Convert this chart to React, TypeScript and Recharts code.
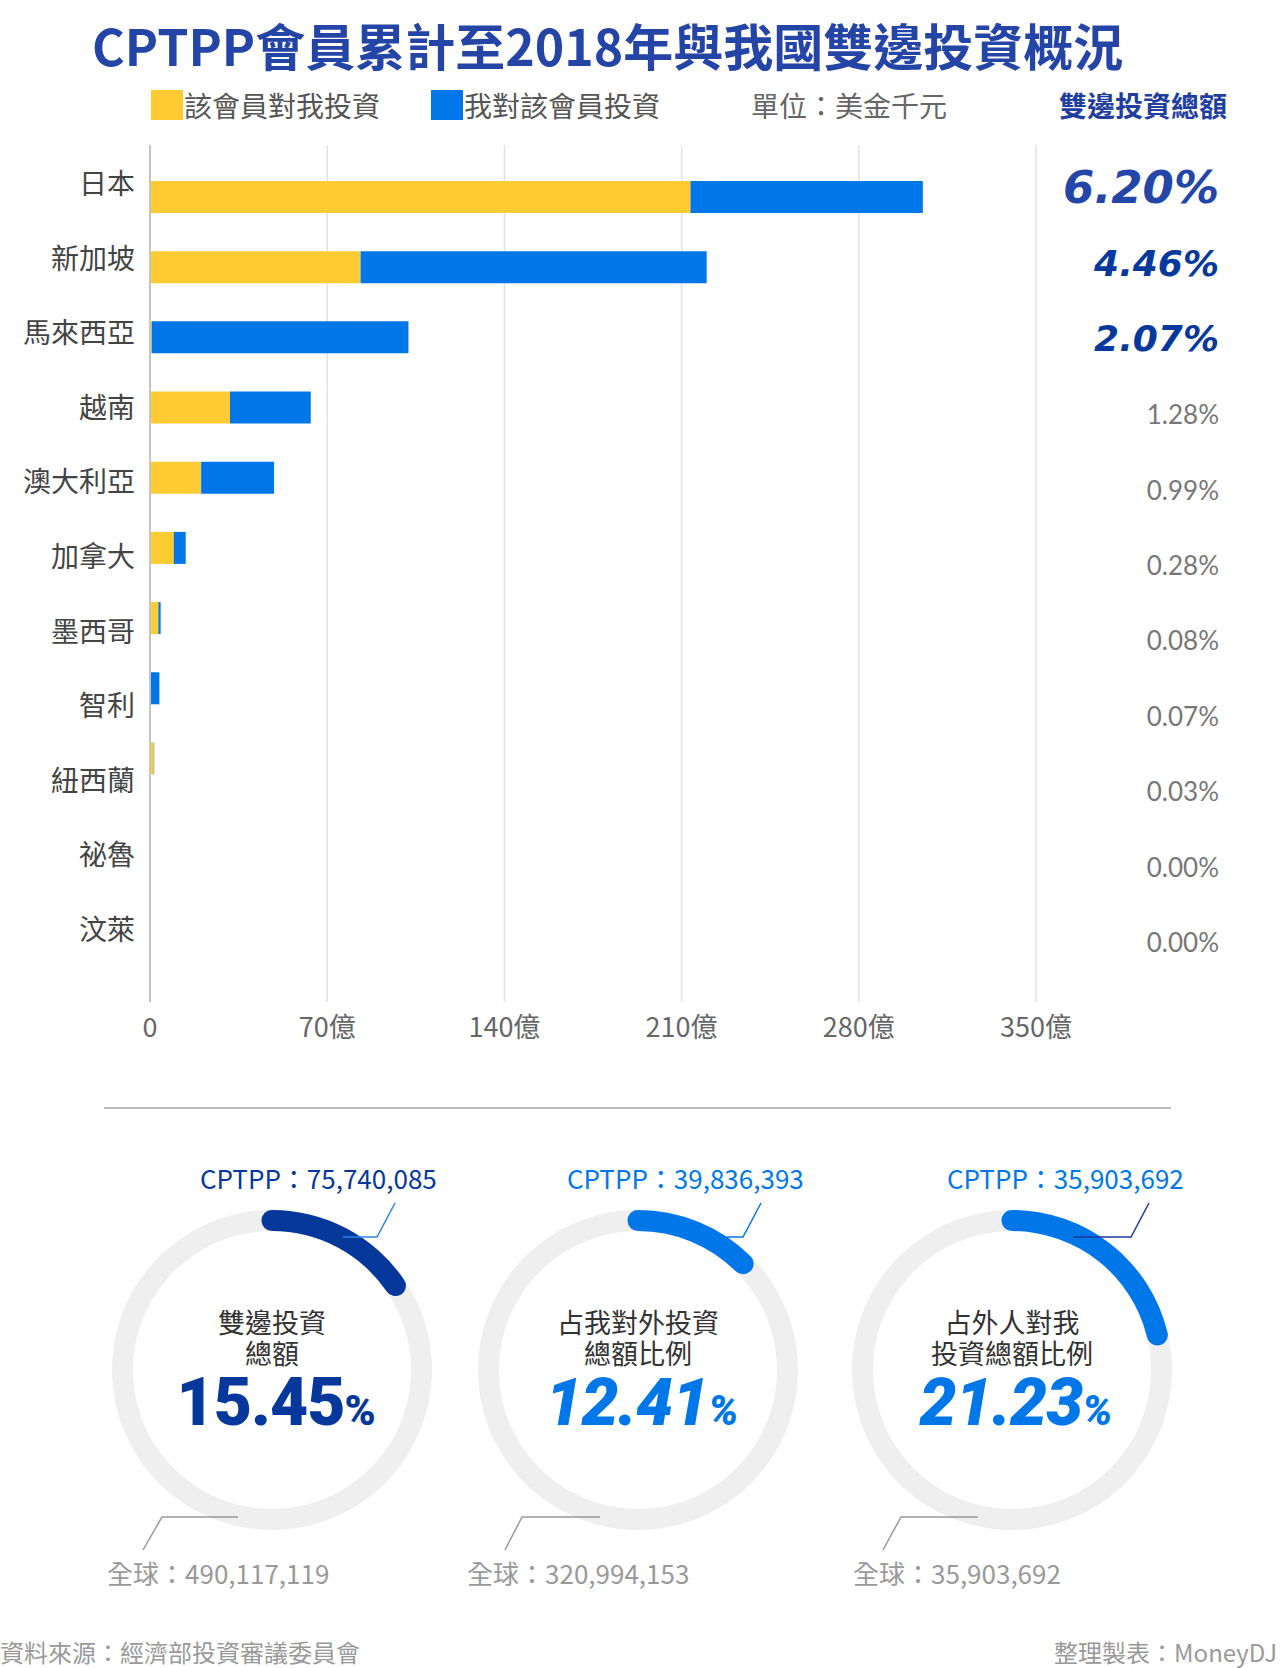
import {
  Bar,
  BarChart,
  CartesianGrid,
  PolarAngleAxis,
  RadialBar,
  RadialBarChart,
  XAxis,
  YAxis,
} from 'recharts'

const members = ['日本', '新加坡', '馬來西亞', '越南', '澳大利亞', '加拿大', '墨西哥', '智利', '紐西蘭', '祕魯', '汶萊']
// 該會員對我投資（億美元）
const inwardValues = [213.5, 83.2, 0.7, 31.6, 20.2, 9.4, 3.3, 0, 1.5, 0.02, 0]
// 我對該會員投資（億美元）
const outwardValues = [91.8, 136.7, 101.4, 31.9, 28.8, 4.7, 0.9, 3.7, 0.15, 0.1, 0]
const shareLabels = ['6.20%', '4.46%', '2.07%', '1.28%', '0.99%', '0.28%', '0.08%', '0.07%', '0.03%', '0.00%', '0.00%']
const xTicks = [0, 70, 140, 210, 280, 350]

const gaugeTitles = [
  ['雙邊投資', '總額'],
  ['占我對外投資', '總額比例'],
  ['占外人對我', '投資總額比例'],
]
const gaugeShares = [15.45, 12.41, 21.23]
const cptppTotals = ['75,740,085', '39,836,393', '35,903,692']
const globalTotals = ['490,117,119', '320,994,153', '35,903,692']

const YELLOW = '#FECB32'
const BLUE = '#0077E8'
const NAVY = '#06379B'
const FONT = '"Noto Sans CJK TC", "Noto Sans", sans-serif'

const series = [
  { key: 'inward', name: '該會員對我投資', color: YELLOW, left: 151 },
  { key: 'outward', name: '我對該會員投資', color: BLUE, left: 431 },
]

const chartData = members.map((name, i) => ({
  name,
  inward: inwardValues[i],
  outward: outwardValues[i],
}))

// look of each gauge (layout only, values come from the arrays above)
const gaugeStyles = [
  { cx: 272, color: NAVY, lead: '#2A84EA', italic: false, top: [123, 105, 71], bottom: [-129, -110, -34], labelLeft: -72, globalLeft: -165 },
  { cx: 638, color: BLUE, lead: BLUE, italic: true, top: [123, 105, 89], bottom: [-133, -116, -38], labelLeft: -71, globalLeft: -171 },
  { cx: 1012, color: BLUE, lead: '#1D3A9A', italic: true, top: [137, 119, 61], bottom: [-129, -111, -34], labelLeft: -65, globalLeft: -159 },
]
const GAUGE_CY = 1370

function MemberTick({ x, y, payload }: any) {
  return (
    <text x={x} y={y} textAnchor="end" dominantBaseline="central" fontSize={28} fill="#444" fontFamily={FONT}>
      {payload.value}
    </text>
  )
}

function ShareTick({ x, y, index }: any) {
  const label = shareLabels[index]
  if (index < 3) {
    return (
      <text
        x={x}
        y={y}
        textAnchor="end"
        dominantBaseline="central"
        fontSize={index === 0 ? 45 : 36}
        fontWeight={700}
        fontStyle="italic"
        fill={index === 0 ? '#2346A8' : '#06399C'}
        fontFamily='"DejaVu Sans", sans-serif'
      >
        {label}
      </text>
    )
  }
  return (
    <text x={x} y={y} textAnchor="end" dominantBaseline="central" fontSize={26} fill="#777" fontFamily="Lato, sans-serif">
      {label}
    </text>
  )
}

function ValueTick({ x, y, payload }: any) {
  return (
    <text x={x} y={y + 23} textAnchor="middle" dominantBaseline="central" fontSize={27} fill="#666" fontFamily={FONT}>
      {payload.value === 0 ? '0' : `${payload.value}億`}
    </text>
  )
}

function Gauge({ i }: { i: number }) {
  const s = gaugeStyles[i]
  const cx = s.cx
  const cy = GAUGE_CY
  const num = gaugeShares[i].toFixed(2)
  return (
    <>
      <div style={{ position: 'absolute', left: cx - 170, top: cy - 170 }}>
        <RadialBarChart
          width={340}
          height={340}
          cx={170}
          cy={170}
          innerRadius={139}
          outerRadius={160}
          startAngle={90}
          endAngle={-270}
          barCategoryGap={0}
          data={[{ name: 'CPTPP', value: gaugeShares[i] }]}
        >
          <PolarAngleAxis type="number" domain={[0, 100]} tick={false} axisLine={false} />
          <RadialBar
            dataKey="value"
            background={{ fill: '#EFEFEF', cornerRadius: 0 }}
            cornerRadius={10.5}
            cornerIsExternal
            fill={s.color}
            isAnimationActive={false}
          />
        </RadialBarChart>
      </div>
      <svg style={{ position: 'absolute', left: 0, top: 0 }} width={1280} height={1668} pointerEvents="none">
        <polyline
          points={`${cx + s.top[0]},1203 ${cx + s.top[1]},1237 ${cx + s.top[2]},1237`}
          fill="none"
          stroke={s.lead}
          strokeWidth={1.5}
        />
        <polyline
          points={`${cx + s.bottom[0]},1550 ${cx + s.bottom[1]},1517 ${cx + s.bottom[2]},1517`}
          fill="none"
          stroke="#999"
          strokeWidth={1.5}
        />
      </svg>
      <div
        style={{
          position: 'absolute',
          left: cx + s.labelLeft,
          top: 1178 - 18,
          lineHeight: '36px',
          fontSize: 26,
          color: s.color,
          whiteSpace: 'nowrap',
        }}
      >
        CPTPP：{cptppTotals[i]}
      </div>
      <div
        style={{
          position: 'absolute',
          left: cx + s.globalLeft,
          top: 1573 - 18,
          lineHeight: '36px',
          fontSize: 26,
          color: '#999',
          whiteSpace: 'nowrap',
        }}
      >
        全球：{globalTotals[i]}
      </div>
      <div
        style={{
          position: 'absolute',
          left: cx - 150,
          width: 300,
          top: cy - 64,
          textAlign: 'center',
          fontSize: 27,
          lineHeight: '31px',
          color: '#333',
        }}
      >
        {gaugeTitles[i].map((line) => (
          <div key={line}>{line}</div>
        ))}
      </div>
      <div
        style={{
          position: 'absolute',
          left: cx - 146,
          width: 300,
          top: cy + 33 - 34,
          lineHeight: '68px',
          textAlign: 'center',
          color: s.color,
          fontFamily: 'Roboto, sans-serif',
          fontWeight: 900,
          fontStyle: s.italic ? 'italic' : 'normal',
          whiteSpace: 'nowrap',
        }}
      >
        <span style={{ fontSize: 66, letterSpacing: -1 }}>{num}</span>
        <span style={{ fontSize: 42 }}>%</span>
      </div>
    </>
  )
}

export default function App() {
  return (
    <div
      style={{
        position: 'absolute',
        left: 0,
        top: 0,
        width: 1280,
        height: 1668,
        background: '#fff',
        fontFamily: FONT,
        overflow: 'hidden',
      }}
    >
      <div
        style={{
          position: 'absolute',
          left: 92,
          top: 17,
          fontSize: 50,
          lineHeight: '54px',
          fontWeight: 700,
          color: '#2444A6',
          whiteSpace: 'nowrap',
        }}
      >
        CPTPP會員累計至2018年與我國雙邊投資概況
      </div>

      {series.map((s) => (
        <div key={s.key}>
          <div style={{ position: 'absolute', left: s.left, top: 90, width: 32, height: 30, background: s.color }} />
          <div
            style={{
              position: 'absolute',
              left: s.left + 33,
              top: 105 - 18,
              fontSize: 28,
              lineHeight: '36px',
              color: '#555',
              whiteSpace: 'nowrap',
            }}
          >
            {s.name}
          </div>
        </div>
      ))}
      <div style={{ position: 'absolute', left: 751, top: 87, fontSize: 28, lineHeight: '36px', color: '#666', whiteSpace: 'nowrap' }}>
        單位：美金千元
      </div>
      <div
        style={{
          position: 'absolute',
          left: 1059,
          top: 87,
          fontSize: 28,
          lineHeight: '36px',
          fontWeight: 700,
          color: '#1F3EA0',
          whiteSpace: 'nowrap',
        }}
      >
        雙邊投資總額
      </div>

      <div style={{ position: 'absolute', left: 0, top: 0 }}>
        <BarChart
          width={1280}
          height={1052}
          layout="vertical"
          data={chartData}
          margin={{ top: 145, right: 0, bottom: 0, left: 0 }}
        >
          <CartesianGrid horizontal={false} stroke="#E2E2E2" strokeWidth={1.5} yAxisId="bar" />
          <XAxis
            type="number"
            domain={[0, 350]}
            ticks={xTicks}
            interval={0}
            axisLine={false}
            tickLine={false}
            tickSize={0}
            tickMargin={0}
            height={50}
            tick={<ValueTick />}
          />
          <YAxis yAxisId="bar" type="category" dataKey="name" hide width={0} padding={{ top: 17, bottom: 68 }} />
          <YAxis
            yAxisId="label"
            type="category"
            dataKey="name"
            orientation="left"
            width={150}
            interval={0}
            tickLine={false}
            tickSize={0}
            tickMargin={15}
            axisLine={{ stroke: '#C4C4C4', strokeWidth: 2 }}
            padding={{ top: 0, bottom: 37 }}
            tick={<MemberTick />}
          />
          <YAxis
            yAxisId="pct"
            type="category"
            dataKey="name"
            orientation="right"
            width={244}
            interval={0}
            axisLine={false}
            tickLine={false}
            tickSize={0}
            tickMargin={183}
            padding={{ top: 5, bottom: 22 }}
            tick={<ShareTick />}
          />
          {series.map((s) => (
            <Bar
              key={s.key}
              yAxisId="bar"
              dataKey={s.key}
              name={s.name}
              stackId="total"
              fill={s.color}
              barSize={32}
              isAnimationActive={false}
            />
          ))}
        </BarChart>
      </div>

      <div style={{ position: 'absolute', left: 104, top: 1107, width: 1067, height: 2, background: '#BBB' }} />

      {gaugeShares.map((_, i) => (
        <Gauge key={i} i={i} />
      ))}

      <div style={{ position: 'absolute', left: 0, top: 1652 - 16, fontSize: 24, lineHeight: '32px', color: '#999', whiteSpace: 'nowrap' }}>
        資料來源：經濟部投資審議委員會
      </div>
      <div
        style={{
          position: 'absolute',
          right: 3,
          top: 1652 - 16,
          fontSize: 24,
          lineHeight: '32px',
          color: '#999',
          whiteSpace: 'nowrap',
        }}
      >
        整理製表：MoneyDJ
      </div>
    </div>
  )
}
